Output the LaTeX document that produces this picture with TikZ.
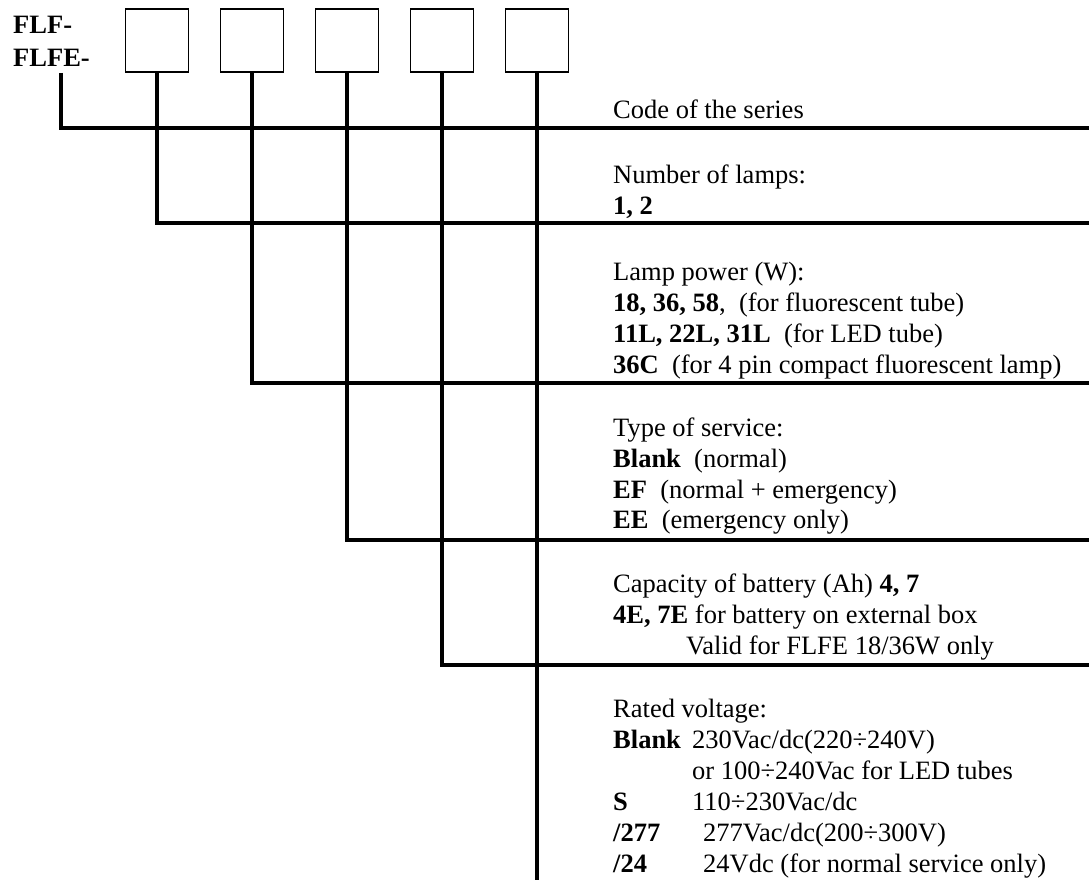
\documentclass[tikz,border=0pt]{standalone}
\usepackage{fontspec}
\setmainfont{Liberation Serif}
\begin{document}
\begin{tikzpicture}[x=1pt,y=-1pt,
  bus/.style={line width=4pt},
  codebox/.style={draw,line width=1.8pt,minimum width=63pt,minimum height=63pt,inner sep=0pt},
  txt/.style={anchor=base west,inner sep=0pt,font=\fontsize{26.5}{31}\selectfont},
  btxt/.style={txt,font=\fontsize{26.5}{31}\selectfont\bfseries},
]
\useasboundingbox[fill=white] (0,0) rectangle (1089,880);
% prefix
\node[btxt] (p1) at (13,34) {FLF-};
\node[btxt] (p2) at (13,67) {FLFE-};
% code boxes
\node[codebox] (b1) at (157,40.5) {};
\node[codebox] (b2) at (252,40.5) {};
\node[codebox] (b3) at (347,40.5) {};
\node[codebox] (b4) at (442,40.5) {};
\node[codebox] (b5) at (537,40.5) {};
% line ends
\coordinate (s0) at (61,73);
\coordinate (e1) at (1089,128);
\coordinate (e2) at (1089,223);
\coordinate (e3) at (1089,383);
\coordinate (e4) at (1089,540);
\coordinate (e5) at (1089,665);
\coordinate (e6) at (537,880);
% connectors
\draw[bus] (s0) |- (e1);
\draw[bus] (b1.south) |- (e2);
\draw[bus] (b2.south) |- (e3);
\draw[bus] (b3.south) |- (e4);
\draw[bus] (b4.south) |- (e5);
\draw[bus] (b5.south) -- (e6);
% texts
\node[txt] (t1) at (613,118) {Code of the series};
\node[txt] (t2a) at (613,183) {Number of lamps:};
\node[btxt] (t2b) at (613,214) {1, 2};
\node[txt] (t3a) at (613,280) {Lamp power (W):};
\node[txt] (t3b) at (613,311) {\textbf{18, 36, 58},\ \ (for fluorescent tube)};
\node[txt] (t3c) at (613,342) {\textbf{11L, 22L, 31L}\ \ (for LED tube)};
\node[txt] (t3d) at (613,373) {\textbf{36C}\ \ (for 4 pin compact fluorescent lamp)};
\node[txt] (t4a) at (613,436) {Type of service:};
\node[txt] (t4b) at (613,467) {\textbf{Blank}\ \ (normal)};
\node[txt] (t4c) at (613,498) {\textbf{EF}\ \ (normal + emergency)};
\node[txt] (t4d) at (613,528) {\textbf{EE}\ \ (emergency only)};
\node[txt] (t5a) at (613,592) {Capacity of battery (Ah) \textbf{4, 7}};
\node[txt] (t5b) at (613,623) {\textbf{4E, 7E} for battery on external box};
\node[txt] (t5c) at (686,654) {Valid for FLFE 18/36W only};
\node[txt] (t6a) at (613,717) {Rated voltage:};
\node[btxt] (t6b) at (613,748) {Blank};
\node[txt] (t6b2) at (692,748) {230Vac/dc(220÷240V)};
\node[txt] (t6c) at (692,779) {or 100÷240Vac for LED tubes};
\node[btxt] (t6d) at (613,810) {S};
\node[txt] (t6d2) at (692,810) {110÷230Vac/dc};
\node[btxt] (t6e) at (613,841) {/277};
\node[txt] (t6e2) at (703,841) {277Vac/dc(200÷300V)};
\node[btxt] (t6f) at (613,872) {/24};
\node[txt] (t6f2) at (703,872) {24Vdc (for normal service only)};
\end{tikzpicture}
\end{document}
